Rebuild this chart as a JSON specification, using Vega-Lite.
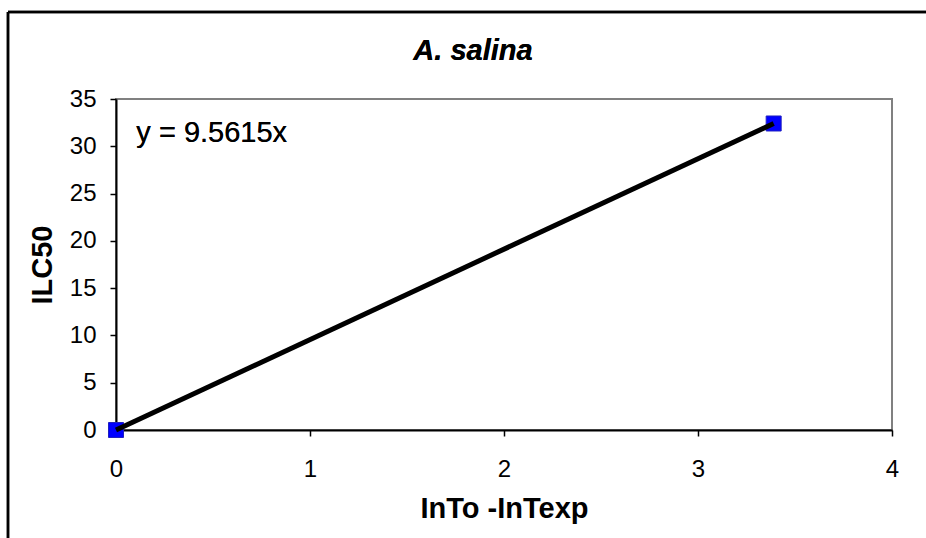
{
  "$schema": "https://vega.github.io/schema/vega-lite/v6.json",
  "width": 776,
  "height": 331,
  "autosize": {"type": "none"},
  "padding": {"left": 116, "top": 99, "right": 34, "bottom": 108},
  "background": "white",
  "config": {
    "font": "Liberation Sans",
    "view": {"stroke": "#808080", "strokeWidth": 2},
    "axis": {
      "grid": false,
      "domainColor": "black",
      "domainWidth": 2,
      "tickColor": "black",
      "tickWidth": 1.5,
      "tickSize": 6,
      "labelFont": "Liberation Sans",
      "labelFontSize": 24,
      "labelColor": "black",
      "titleFont": "Liberation Sans",
      "titleFontSize": 29,
      "titleFontWeight": "bold",
      "titleColor": "black"
    }
  },
  "data": {
    "values": [
      {"x": 0, "y": 0},
      {"x": 3.39, "y": 32.41}
    ]
  },
  "layer": [
    {
      "mark": {"type": "point", "shape": "square", "size": 225, "filled": true, "fill": "#0000FF", "stroke": "#2020c0", "strokeWidth": 1, "opacity": 1, "clip": false},
      "encoding": {
        "x": {
          "field": "x", "type": "quantitative",
          "scale": {"domain": [0, 4], "nice": false, "zero": false},
          "axis": {"values": [0, 1, 2, 3, 4], "format": "d", "title": "InTo -InTexp", "labelPadding": 21, "titlePadding": 13, "labelFlush": false}
        },
        "y": {
          "field": "y", "type": "quantitative",
          "scale": {"domain": [0, 35], "nice": false, "zero": false},
          "axis": {"values": [0, 5, 10, 15, 20, 25, 30, 35], "format": "d", "title": "ILC50", "labelPadding": 14, "titlePadding": 12, "labelFlush": false}
        }
      }
    },
    {
      "mark": {"type": "line", "color": "black", "strokeWidth": 5, "clip": false},
      "encoding": {
        "x": {"field": "x", "type": "quantitative"},
        "y": {"field": "y", "type": "quantitative"}
      }
    },
    {
      "mark": {"type": "text", "align": "left", "baseline": "middle", "font": "Liberation Sans", "fontSize": 29, "color": "black", "clip": false},
      "encoding": {
        "x": {"datum": 0.105},
        "y": {"datum": 31.4},
        "text": {"value": "y = 9.5615x"}
      }
    },
    {
      "mark": {"type": "text", "align": "center", "baseline": "alphabetic", "font": "Liberation Sans", "fontSize": 29, "fontWeight": "bold", "fontStyle": "italic", "color": "black", "clip": false},
      "encoding": {
        "x": {"datum": 1.84},
        "y": {"datum": 39.1},
        "text": {"value": "A. salina"}
      }
    },
    {
      "mark": {"type": "rule", "color": "black", "strokeWidth": 2.5, "clip": false},
      "encoding": {
        "x": {"datum": -0.5567},
        "y": {"datum": 44.2},
        "y2": {"datum": -20}
      }
    },
    {
      "mark": {"type": "rule", "color": "black", "strokeWidth": 2.5, "clip": false},
      "encoding": {
        "y": {"datum": 44.2},
        "x": {"datum": -0.5567},
        "x2": {"datum": 6}
      }
    }
  ]
}
